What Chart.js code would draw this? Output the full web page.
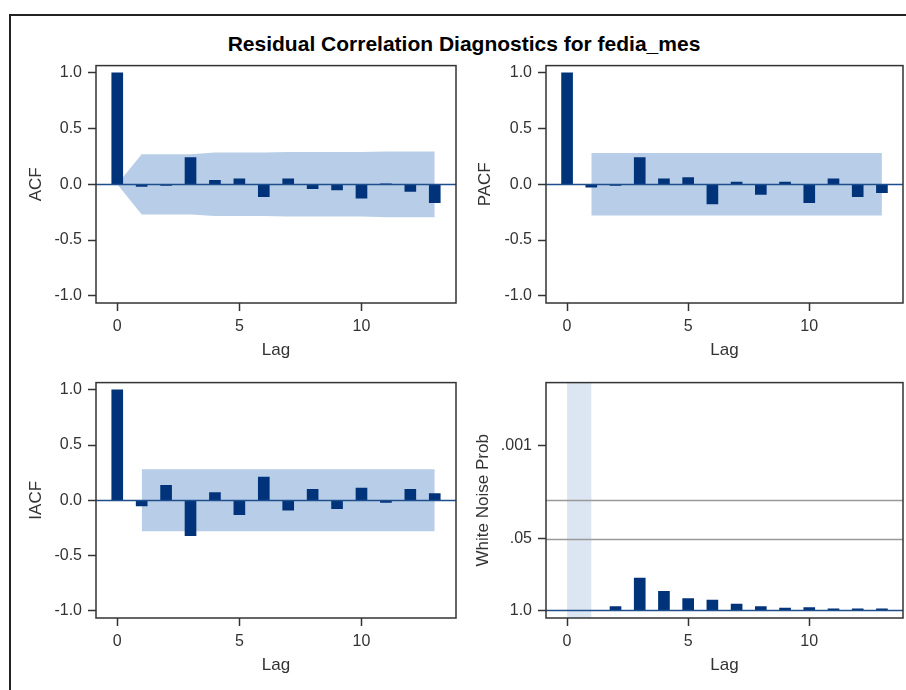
<!DOCTYPE html>
<html>
<head>
<meta charset="utf-8">
<script src="https://cdn.jsdelivr.net/npm/chart.js@4.4.1/dist/chart.umd.min.js"></script>
<style>
  html, body { margin: 0; padding: 0; background: #fff; width: 906px; height: 690px; overflow: hidden; }
  #frame { position: absolute; left: 9px; top: 14px; width: 1000px; height: 1000px;
           border-left: 2px solid #222; border-top: 2px solid #222; }
  #title { position: absolute; top: 32px; left: 464px; transform: translateX(-50%); white-space: nowrap;
           font: bold 21px "Liberation Sans", Arial, sans-serif; color: #000; }
  canvas { position: absolute; }
</style>
</head>
<body>
<div id="frame"></div>
<div id="title">Residual Correlation Diagnostics for fedia_mes</div>
<canvas id="acfChart"></canvas>
<canvas id="pacfChart"></canvas>
<canvas id="iacfChart"></canvas>
<canvas id="wnChart"></canvas>
<script>
// values
const lags = [0, 1, 2, 3, 4, 5, 6, 7, 8, 9, 10, 11, 12, 13];
const acfValues = [1.0, -0.02, -0.01, 0.24, 0.035, 0.05, -0.11, 0.05, -0.04, -0.05, -0.125, 0.005, -0.065, -0.165];
const acfBandUpper = [0, 0.27, 0.27, 0.27, 0.285, 0.285, 0.285, 0.29, 0.29, 0.29, 0.29, 0.295, 0.295, 0.295];
const acfBandLower = [0, -0.27, -0.27, -0.27, -0.285, -0.285, -0.285, -0.29, -0.29, -0.29, -0.29, -0.295, -0.295, -0.295];

const pacfValues = [1.0, -0.025, -0.01, 0.24, 0.05, 0.06, -0.175, 0.02, -0.09, 0.02, -0.165, 0.05, -0.11, -0.075];
const iacfValues = [1.0, -0.05, 0.135, -0.32, 0.07, -0.13, 0.21, -0.09, 0.10, -0.075, 0.11, -0.02, 0.10, 0.06];
const bandLags = [1, 13];
const bandUpper = [0.28, 0.28];
const bandLower = [-0.28, -0.28];

const wnLags = [2, 3, 4, 5, 6, 7, 8, 9, 10, 11, 12, 13];
const wnProb = [0.86, 0.26, 0.45, 0.61, 0.65, 0.77, 0.86, 0.91, 0.89, 0.94, 0.94, 0.94];
const wnTickProbs = [1.0, 0.05, 0.001];
const wnTickLabels = ["1.0", ".05", ".001"];
const wnRefProbs = [0.05, 0.01];

const xTicks = [0, 5, 10];
const corrTicks = [-1, -0.5, 0, 0.5, 1];

const NAVY = "#00337a";
const BAND = "#b8cee8";
const TEXT = "#333";

Chart.defaults.font.family = '"Liberation Sans", Arial, sans-serif';
Chart.defaults.color = TEXT;

const toPts = (xs, ys) => xs.map((x, i) => ({ x: x, y: ys[i] }));
const negLog = (p) => -Math.log10(p);

// frame, reference lines and shaded lag region
const panelDecor = {
  id: "panelDecor",
  beforeDatasetsDraw(chart, args, opts) {
    const { ctx, chartArea: a, scales } = chart;
    (opts.shade || []).forEach((s) => {
      const x0 = scales.x.getPixelForValue(s[0]);
      const x1 = scales.x.getPixelForValue(s[1]);
      ctx.save();
      ctx.fillStyle = opts.shadeColor;
      ctx.fillRect(x0, a.top, x1 - x0, a.bottom - a.top);
      ctx.restore();
    });
  },
  afterDatasetsDraw(chart, args, opts) {
    const { ctx, chartArea: a, scales } = chart;
    ctx.save();
    (opts.hlines || []).forEach((h) => {
      const y = Math.round(scales.y.getPixelForValue(h.value)) + 0.5;
      ctx.strokeStyle = h.color;
      ctx.lineWidth = h.width;
      ctx.beginPath();
      ctx.moveTo(a.left, y);
      ctx.lineTo(a.right, y);
      ctx.stroke();
    });
    ctx.strokeStyle = "#333";
    ctx.lineWidth = 1.5;
    ctx.strokeRect(a.left, a.top, a.right - a.left, a.bottom - a.top);
    ctx.restore();
  },
};

function makePanel(id, plot, yTitle, yTitlePad, datasets, yScale, decor) {
  const el = document.getElementById(id);
  const w = plot.right - plot.left + 76 + 3;
  const h = plot.bottom - plot.top + 15 + 60;
  el.width = w;
  el.height = h;
  el.style.left = plot.left - 76 + "px";
  el.style.top = plot.top - 15 + "px";

  return new Chart(el, {
    type: "bar",
    data: { datasets: datasets },
    options: {
      responsive: false,
      animation: false,
      events: [],
      layout: { padding: { top: 15, right: 3, left: 0, bottom: 0 } },
      plugins: { legend: { display: false }, tooltip: { enabled: false }, panelDecor: decor },
      scales: {
        x: {
          type: "linear",
          offset: false,
          min: -0.87,
          max: 13.87,
          afterBuildTicks: (s) => { s.ticks = xTicks.map((v) => ({ value: v })); },
          afterFit: (s) => { s.height = 60; },
          ticks: { font: { size: 16 }, color: TEXT, padding: 6, maxRotation: 0 },
          grid: { offset: false, drawOnChartArea: false, tickLength: 8, tickWidth: 1.5, tickColor: "#333" },
          border: { display: false },
          title: { display: true, text: "Lag", font: { size: 17 }, color: TEXT, padding: { top: 0, bottom: 2 } },
        },
        y: Object.assign({
          type: "linear",
          afterFit: (s) => { s.width = 76; },
          grid: { drawOnChartArea: false, tickLength: 8, tickWidth: 1.5, tickColor: "#333" },
          border: { display: false },
          title: { display: true, text: yTitle, font: { size: 17 }, color: TEXT, padding: { top: yTitlePad, bottom: 0 } },
        }, yScale),
      },
    },
    plugins: [panelDecor],
  });
}

function corrDatasets(values, upLags, up, low) {
  return [
    { type: "bar", data: toPts(lags, values), backgroundColor: NAVY, barThickness: 11, order: 1 },
    { type: "line", data: toPts(upLags, up), fill: "+1", backgroundColor: BAND,
      borderColor: "rgba(0,0,0,0)", pointRadius: 0, tension: 0, order: 2 },
    { type: "line", data: toPts(upLags, low), fill: false,
      borderColor: "rgba(0,0,0,0)", pointRadius: 0, tension: 0, order: 2 },
  ];
}

const corrY = {
  min: -1.065,
  max: 1.065,
  afterBuildTicks: (s) => { s.ticks = corrTicks.map((v) => ({ value: v })); },
  ticks: { font: { size: 16 }, color: TEXT, padding: 6, callback: (v) => v.toFixed(1) },
};
const zeroLine = { hlines: [{ value: 0, color: "#1f4e8c", width: 1.5 }] };

makePanel("acfChart", { left: 96, top: 65, right: 456, bottom: 303 }, "ACF", 6.5,
  corrDatasets(acfValues, lags, acfBandUpper, acfBandLower), corrY, zeroLine);

makePanel("pacfChart", { left: 546, top: 65, right: 903, bottom: 303 }, "PACF", 4.8,
  corrDatasets(pacfValues, bandLags, bandUpper, bandLower), corrY, zeroLine);

makePanel("iacfChart", { left: 96, top: 382, right: 456, bottom: 618 }, "IACF", 6.5,
  corrDatasets(iacfValues, bandLags, bandUpper, bandLower), corrY, zeroLine);

makePanel("wnChart", { left: 546, top: 382, right: 903, bottom: 618 }, "White Noise Prob", 3.1,
  [{ type: "bar", data: toPts(wnLags, wnProb.map(negLog)), backgroundColor: NAVY, barThickness: 11 }],
  {
    min: -0.14,
    max: 4.14,
    afterBuildTicks: (s) => { s.ticks = wnTickProbs.map((p) => ({ value: negLog(p) })); },
    ticks: { font: { size: 16 }, color: TEXT, padding: 6, callback: (v, i) => wnTickLabels[i] },
  },
  {
    shade: [[0, 1]],
    shadeColor: "#dce6f2",
    hlines: wnRefProbs.map((p) => ({ value: negLog(p), color: "#999", width: 1.5 }))
      .concat([{ value: 0, color: "#1f4e8c", width: 1.5 }]),
  });
</script>
</body>
</html>
